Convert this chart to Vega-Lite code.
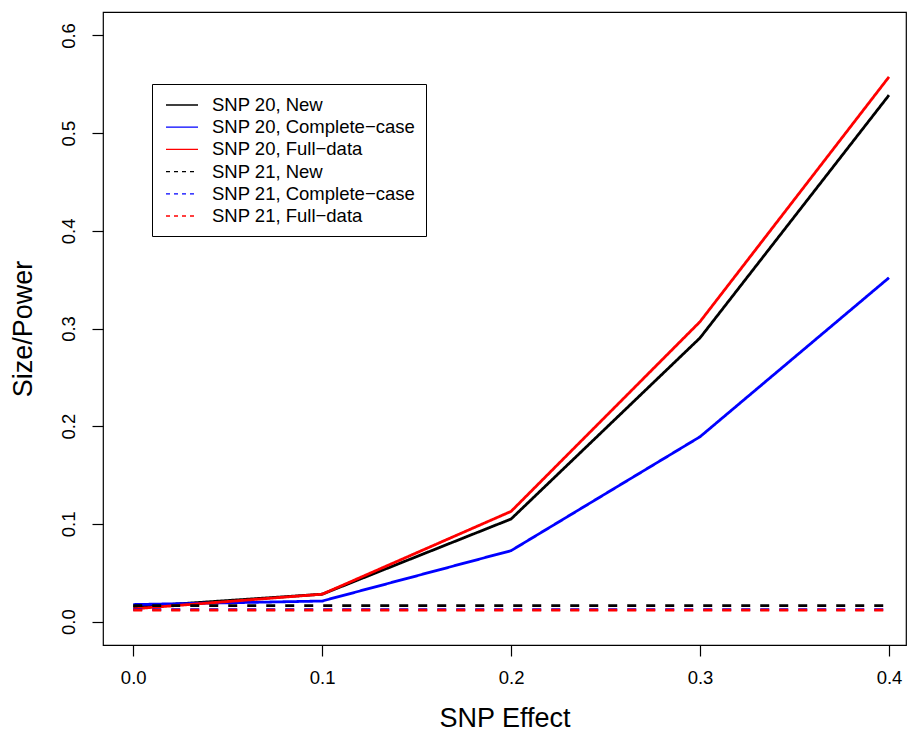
{
  "$schema": "https://vega.github.io/schema/vega-lite/v6.json",
  "autosize": "none",
  "width": 803,
  "height": 633,
  "padding": {"left": 103, "top": 12, "right": 2, "bottom": 87},
  "background": "white",
  "config": {
    "font": "Liberation Sans",
    "view": {"stroke": "black", "strokeWidth": 1.2}
  },
  "data": {
    "values": [
      {"series": "SNP 20, New", "effect": 0.0, "power": 0.015},
      {"series": "SNP 20, New", "effect": 0.1, "power": 0.028},
      {"series": "SNP 20, New", "effect": 0.2, "power": 0.105},
      {"series": "SNP 20, New", "effect": 0.3, "power": 0.2904},
      {"series": "SNP 20, New", "effect": 0.4, "power": 0.5389},
      {"series": "SNP 20, Complete−case", "effect": 0.0, "power": 0.0174},
      {"series": "SNP 20, Complete−case", "effect": 0.1, "power": 0.021},
      {"series": "SNP 20, Complete−case", "effect": 0.2, "power": 0.0726},
      {"series": "SNP 20, Complete−case", "effect": 0.3, "power": 0.1892},
      {"series": "SNP 20, Complete−case", "effect": 0.4, "power": 0.352},
      {"series": "SNP 20, Full−data", "effect": 0.0, "power": 0.013},
      {"series": "SNP 20, Full−data", "effect": 0.1, "power": 0.028},
      {"series": "SNP 20, Full−data", "effect": 0.2, "power": 0.1128},
      {"series": "SNP 20, Full−data", "effect": 0.3, "power": 0.307},
      {"series": "SNP 20, Full−data", "effect": 0.4, "power": 0.5576},
      {"series": "SNP 21, New", "effect": 0.0, "power": 0.0164},
      {"series": "SNP 21, New", "effect": 0.1, "power": 0.0164},
      {"series": "SNP 21, New", "effect": 0.2, "power": 0.0164},
      {"series": "SNP 21, New", "effect": 0.3, "power": 0.0164},
      {"series": "SNP 21, New", "effect": 0.4, "power": 0.0164},
      {"series": "SNP 21, Complete−case", "effect": 0.0, "power": 0.0123},
      {"series": "SNP 21, Complete−case", "effect": 0.1, "power": 0.0123},
      {"series": "SNP 21, Complete−case", "effect": 0.2, "power": 0.0123},
      {"series": "SNP 21, Complete−case", "effect": 0.3, "power": 0.0123},
      {"series": "SNP 21, Complete−case", "effect": 0.4, "power": 0.0123},
      {"series": "SNP 21, Full−data", "effect": 0.0, "power": 0.0117},
      {"series": "SNP 21, Full−data", "effect": 0.1, "power": 0.0117},
      {"series": "SNP 21, Full−data", "effect": 0.2, "power": 0.0117},
      {"series": "SNP 21, Full−data", "effect": 0.3, "power": 0.0117},
      {"series": "SNP 21, Full−data", "effect": 0.4, "power": 0.0117}
    ]
  },
  "encoding": {
    "x": {
      "field": "effect",
      "type": "quantitative",
      "scale": {"domain": [-0.016, 0.409], "nice": false, "zero": false},
      "axis": {
        "values": [0, 0.1, 0.2, 0.3, 0.4],
        "format": ".1f",
        "title": "SNP Effect",
        "titleFontSize": 27,
        "titleFontWeight": "normal",
        "titleColor": "black",
        "titlePadding": 19,
        "labelFontSize": 18.5,
        "labelColor": "black",
        "labelPadding": 12,
        "tickSize": 11,
        "tickColor": "black",
        "tickWidth": 1.2,
        "domain": false,
        "grid": false
      }
    },
    "y": {
      "field": "power",
      "type": "quantitative",
      "scale": {"domain": [-0.024, 0.624], "nice": false, "zero": false},
      "axis": {
        "values": [0, 0.1, 0.2, 0.3, 0.4, 0.5, 0.6],
        "format": ".1f",
        "title": "Size/Power",
        "titleFontSize": 27,
        "titleFontWeight": "normal",
        "titleColor": "black",
        "titlePadding": 22,
        "labelFontSize": 18.5,
        "labelColor": "black",
        "labelAngle": -90,
        "labelAlign": "center",
        "labelBaseline": "bottom",
        "labelPadding": 14,
        "tickSize": 11,
        "tickColor": "black",
        "tickWidth": 1.2,
        "domain": false,
        "grid": false
      }
    }
  },
  "layer": [
    {
      "mark": {"type": "line", "strokeWidth": 2.8, "strokeCap": "butt", "clip": true},
      "encoding": {
        "color": {
          "field": "series",
          "type": "nominal",
          "scale": {
            "domain": ["SNP 20, New", "SNP 20, Complete−case", "SNP 20, Full−data", "SNP 21, New", "SNP 21, Complete−case", "SNP 21, Full−data"],
            "range": ["#000000", "#0000FF", "#FF0000", "#000000", "#0000FF", "#FF0000"]
          },
          "legend": null
        },
        "strokeDash": {
          "field": "series",
          "type": "nominal",
          "scale": {
            "domain": ["SNP 20, New", "SNP 20, Complete−case", "SNP 20, Full−data", "SNP 21, New", "SNP 21, Complete−case", "SNP 21, Full−data"],
            "range": [[1, 0], [1, 0], [1, 0], [9, 10], [9, 10], [9, 10]]
          },
          "legend": null
        }
      }
    },
    {
      "transform": [{"filter": "datum.effect < -1"}],
      "mark": {"type": "line", "strokeWidth": 1.3, "clip": true},
      "encoding": {
        "color": {
          "field": "series",
          "type": "nominal",
          "scale": {
            "domain": ["SNP 20, New", "SNP 20, Complete−case", "SNP 20, Full−data", "SNP 21, New", "SNP 21, Complete−case", "SNP 21, Full−data"],
            "range": ["#000000", "#0000FF", "#FF0000", "#000000", "#0000FF", "#FF0000"]
          },
          "legend": {
            "title": null,
            "orient": "none",
            "legendX": 49,
            "legendY": 72,
            "strokeColor": "black",
            "fillColor": "white",
            "padding": 10,
            "symbolOffset": 9,
            "symbolType": "M-1.6,0H1.6",
            "symbolSize": 400,
            "symbolStrokeWidth": 1.3,
            "labelFontSize": 18.5,
            "labelColor": "black",
            "labelOffset": 19,
            "labelLimit": 400,
            "rowPadding": 1.2
          }
        },
        "strokeDash": {
          "field": "series",
          "type": "nominal",
          "scale": {
            "domain": ["SNP 20, New", "SNP 20, Complete−case", "SNP 20, Full−data", "SNP 21, New", "SNP 21, Complete−case", "SNP 21, Full−data"],
            "range": [[1, 0], [1, 0], [1, 0], [4, 4], [4, 4], [4, 4]]
          }
        }
      }
    }
  ],
  "resolve": {"scale": {"color": "independent", "strokeDash": "independent"}}
}
